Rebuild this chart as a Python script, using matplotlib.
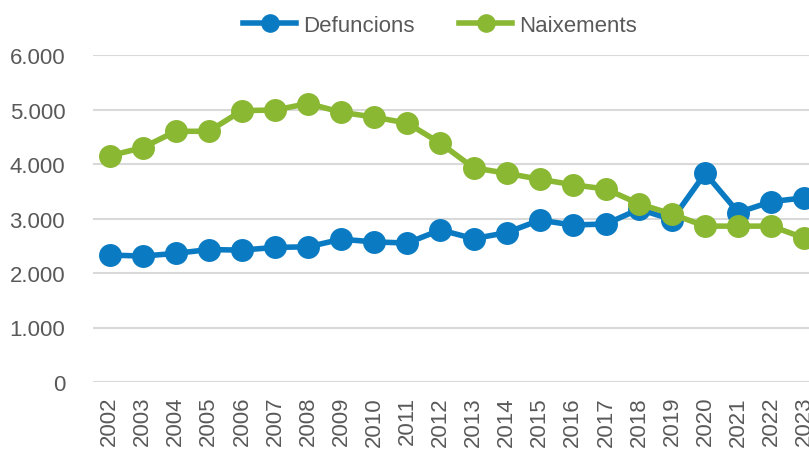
import matplotlib
matplotlib.use("Agg")
import matplotlib.pyplot as plt
from matplotlib.ticker import FuncFormatter

plt.rcParams['font.family'] = ['Liberation Sans', 'DejaVu Sans']

# Data
years = ['2002', '2003', '2004', '2005', '2006', '2007', '2008', '2009', '2010', '2011', '2012',
         '2013', '2014', '2015', '2016', '2017', '2018', '2019', '2020', '2021', '2022', '2023']
defuncions = [2330, 2310, 2360, 2430, 2420, 2470, 2480, 2620, 2570, 2550, 2790,
              2630, 2740, 2970, 2880, 2900, 3170, 2980, 3830, 3110, 3310, 3380]
naixements = [4150, 4300, 4600, 4600, 4980, 4990, 5110, 4950, 4860, 4750, 4380,
              3930, 3830, 3720, 3620, 3540, 3270, 3080, 2860, 2860, 2860, 2640]
y_ticks = [0, 1000, 2000, 3000, 4000, 5000, 6000]

blue = '#0a7bc2'
green = '#8ab833'
grey = '#595959'

fig = plt.figure(figsize=(8.09, 4.52), dpi=100)
ax = fig.add_axes([93 / 809, 1 - 383 / 452, 728 / 809, (383 - 56) / 452])

x = range(len(years))
ax.plot(x, defuncions, color=blue, lw=4, marker='o', ms=15.5, label='Defuncions', zorder=3)
ax.plot(x, naixements, color=green, lw=4, marker='o', ms=15.5, label='Naixements', zorder=3)

ax.set_xlim(-0.5, len(years) - 0.5)
ax.set_ylim(0, 6000)
ax.set_yticks(y_ticks)
ax.yaxis.set_major_formatter(FuncFormatter(lambda v, p: f'{int(v):,}'.replace(',', '.')))
ax.set_xticks(list(x))
ax.set_xticklabels(years, rotation=90)

ax.grid(axis='y', color='#d9d9d9', lw=1.5)
ax.set_axisbelow(True)
for s in ax.spines.values():
    s.set_visible(False)
ax.tick_params(length=0, colors=grey, labelsize=16)
ax.tick_params(axis='y', pad=20)
ax.tick_params(axis='x', pad=10)

fig.legend(loc='center', bbox_to_anchor=(440 / 809, 1 - 26 / 452), ncol=2, frameon=False,
           fontsize=16, labelcolor=grey, handlelength=2.4, handletextpad=0.3, columnspacing=2.0,
           markerscale=0.8)

fig.savefig('out.png', dpi=100)
